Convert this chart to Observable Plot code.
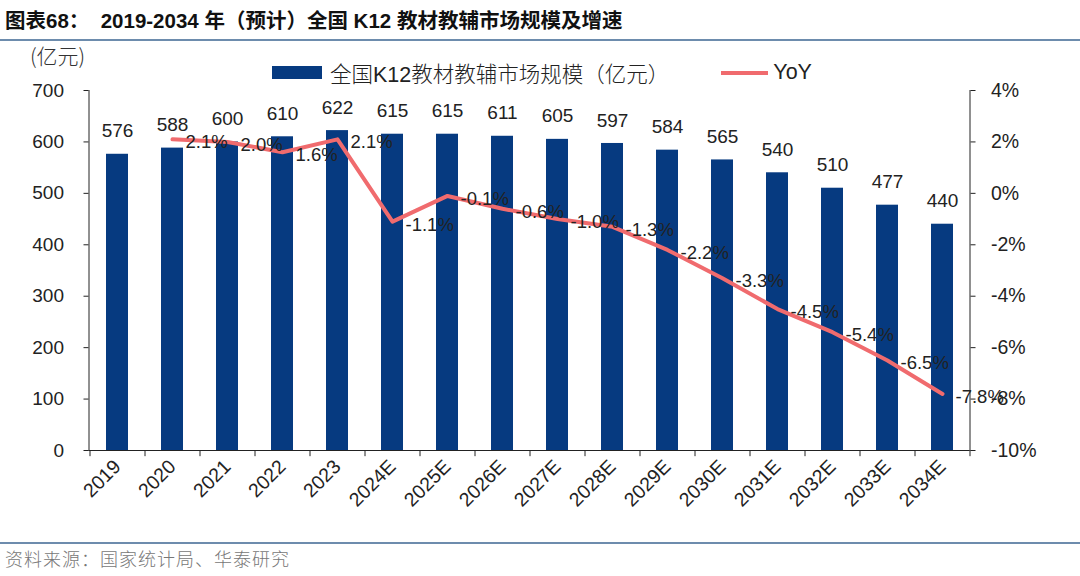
<!DOCTYPE html>
<html>
<head>
<meta charset="utf-8">
<script src="https://cdn.jsdelivr.net/npm/d3@7"></script>
<script src="https://cdn.jsdelivr.net/npm/@observablehq/plot@0.6"></script>
<style>
  html, body { margin: 0; padding: 0; background: #fff; }
  #wrap { position: relative; width: 1080px; height: 576px; overflow: hidden; font-family: "Liberation Sans", Arial, "Noto Sans CJK SC", sans-serif; color: #222; }
  #title { position: absolute; left: 5px; top: 4px; font-size: 20.5px; font-weight: bold; font-family: "Liberation Sans", Arial, "Noto Sans CJK SC", sans-serif; white-space: pre; color: #111; }
  .rule { position: absolute; left: 0; width: 1080px; height: 2px; background: #6d8cad; }
  #unit { position: absolute; left: 30px; top: 40px; font-size: 21px; font-family: "Noto Sans CJK SC", sans-serif; font-weight: 300; color: #333; }
  #legend { position: absolute; left: 272px; top: 57px; display: flex; align-items: center; font-size: 21.5px; color: #222; white-space: nowrap; }
  #legend .sw { display: inline-block; }
  #legend .lab { margin-left: 8px; font-family: "Liberation Sans", Arial, "Noto Sans CJK SC", sans-serif; }
  #legend .cjk { font-family: "Noto Sans CJK SC", sans-serif; font-weight: 300; }
  #chart { position: absolute; left: 0; top: 40px; }
  #source { position: absolute; left: 5px; top: 545px; font-size: 18px; letter-spacing: 1px; font-family: "Noto Sans CJK SC", sans-serif; font-weight: 300; color: #777; white-space: pre; }
</style>
</head>
<body>
<div id="wrap">
  <div id="title">图表68：  2019-2034 年（预计）全国 K12 教材教辅市场规模及增速</div>
  <div class="rule" style="top:39px"></div>
  <div id="unit">(亿元)</div>
  <div id="legend">
    <span class="sw" style="width:50px;height:13px;background:#063a80"></span>
    <span class="lab"><span class="cjk">全国</span>K12<span class="cjk">教材教辅市场规模（亿元）</span></span>
    <span class="sw" style="width:47px;height:4px;background:#f06b6e;margin-left:52px"></span>
    <span class="lab" style="margin-left:5px">YoY</span>
  </div>
  <div id="chart"></div>
  <div class="rule" style="top:542px"></div>
  <div id="source">资料来源：国家统计局、华泰研究</div>
</div>
<script>
const years = ["2019","2020","2021","2022","2023","2024E","2025E","2026E","2027E","2028E","2029E","2030E","2031E","2032E","2033E","2034E"];
const market = [576,588,600,610,622,615,615,611,605,597,584,565,540,510,477,440];
const yoyYears = ["2020","2021","2022","2023","2024E","2025E","2026E","2027E","2028E","2029E","2030E","2031E","2032E","2033E","2034E"];
const yoy = [2.1,2.0,1.6,2.1,-1.1,-0.1,-0.6,-1.0,-1.3,-2.2,-3.3,-4.5,-5.4,-6.5,-7.8];
const leftTicks = [0,100,200,300,400,500,600,700];
const rightTicks = [-10,-8,-6,-4,-2,0,2,4];

const barColor = "#063a80";
const lineColor = "#f06b6e";

const bars = years.map((y, i) => ({year: y, value: market[i]}));
const growth = yoyYears.map((y, i) => ({year: y, yoy: yoy[i]}));
// map percent (-10..4) onto the left scale (0..700)
const toLeft = p => (p + 10) * 50;
const fromLeft = v => v / 50 - 10;

const chart = Plot.plot({
  width: 1080,
  height: 500,
  marginTop: 50,
  marginBottom: 90,
  marginLeft: 88.5,
  marginRight: 110.5,
  style: {fontFamily: "Liberation Sans, Arial, sans-serif", fontSize: "18px", color: "#222", background: "transparent", overflow: "visible"},
  x: {domain: years, paddingInner: 0.6, paddingOuter: 0.3, label: null},
  y: {domain: [0, 700], label: null},
  marks: [
    Plot.barY(bars, {x: "year", y: "value", fill: barColor}),
    Plot.text(bars, {x: "year", y: "value", text: d => String(d.value), dy: -23, fontSize: 19, fill: "#222"}),
    Plot.line(growth, {x: "year", y: d => toLeft(d.yoy), stroke: lineColor, strokeWidth: 4, strokeLinejoin: "round"}),
    Plot.text(growth, {x: "year", y: d => toLeft(d.yoy), text: d => d.yoy.toFixed(1) + "%", textAnchor: "start", dx: 13, dy: 3, fontSize: 18.5, fill: "#222"}),
    Plot.axisY({ticks: leftTicks, tickSize: 5, tickPadding: 20, fontSize: 19, label: null}),
    Plot.axisY({anchor: "right", ticks: rightTicks.map(toLeft), tickFormat: v => Math.round(fromLeft(v)) + "%", tickSize: 5, tickPadding: 16, fontSize: 19.5, label: null}),
    Plot.axisX({tickRotate: -45, tickSize: 0, tickPadding: 13, fontSize: 19.5, label: null}),
    Plot.ruleX(years, {x: d => d, y1: 0, y2: -12, dx: -27.5, stroke: "#222"}),
    Plot.ruleX([years[years.length - 1]], {x: d => d, y1: 0, y2: -12, dx: 27.5, stroke: "#222"}),
    Plot.ruleY([0], {stroke: "#222"}),
    Plot.frame({anchor: "left", stroke: "#222"}),
    Plot.frame({anchor: "right", stroke: "#222"})
  ]
});
document.getElementById("chart").appendChild(chart);
</script>
</body>
</html>
